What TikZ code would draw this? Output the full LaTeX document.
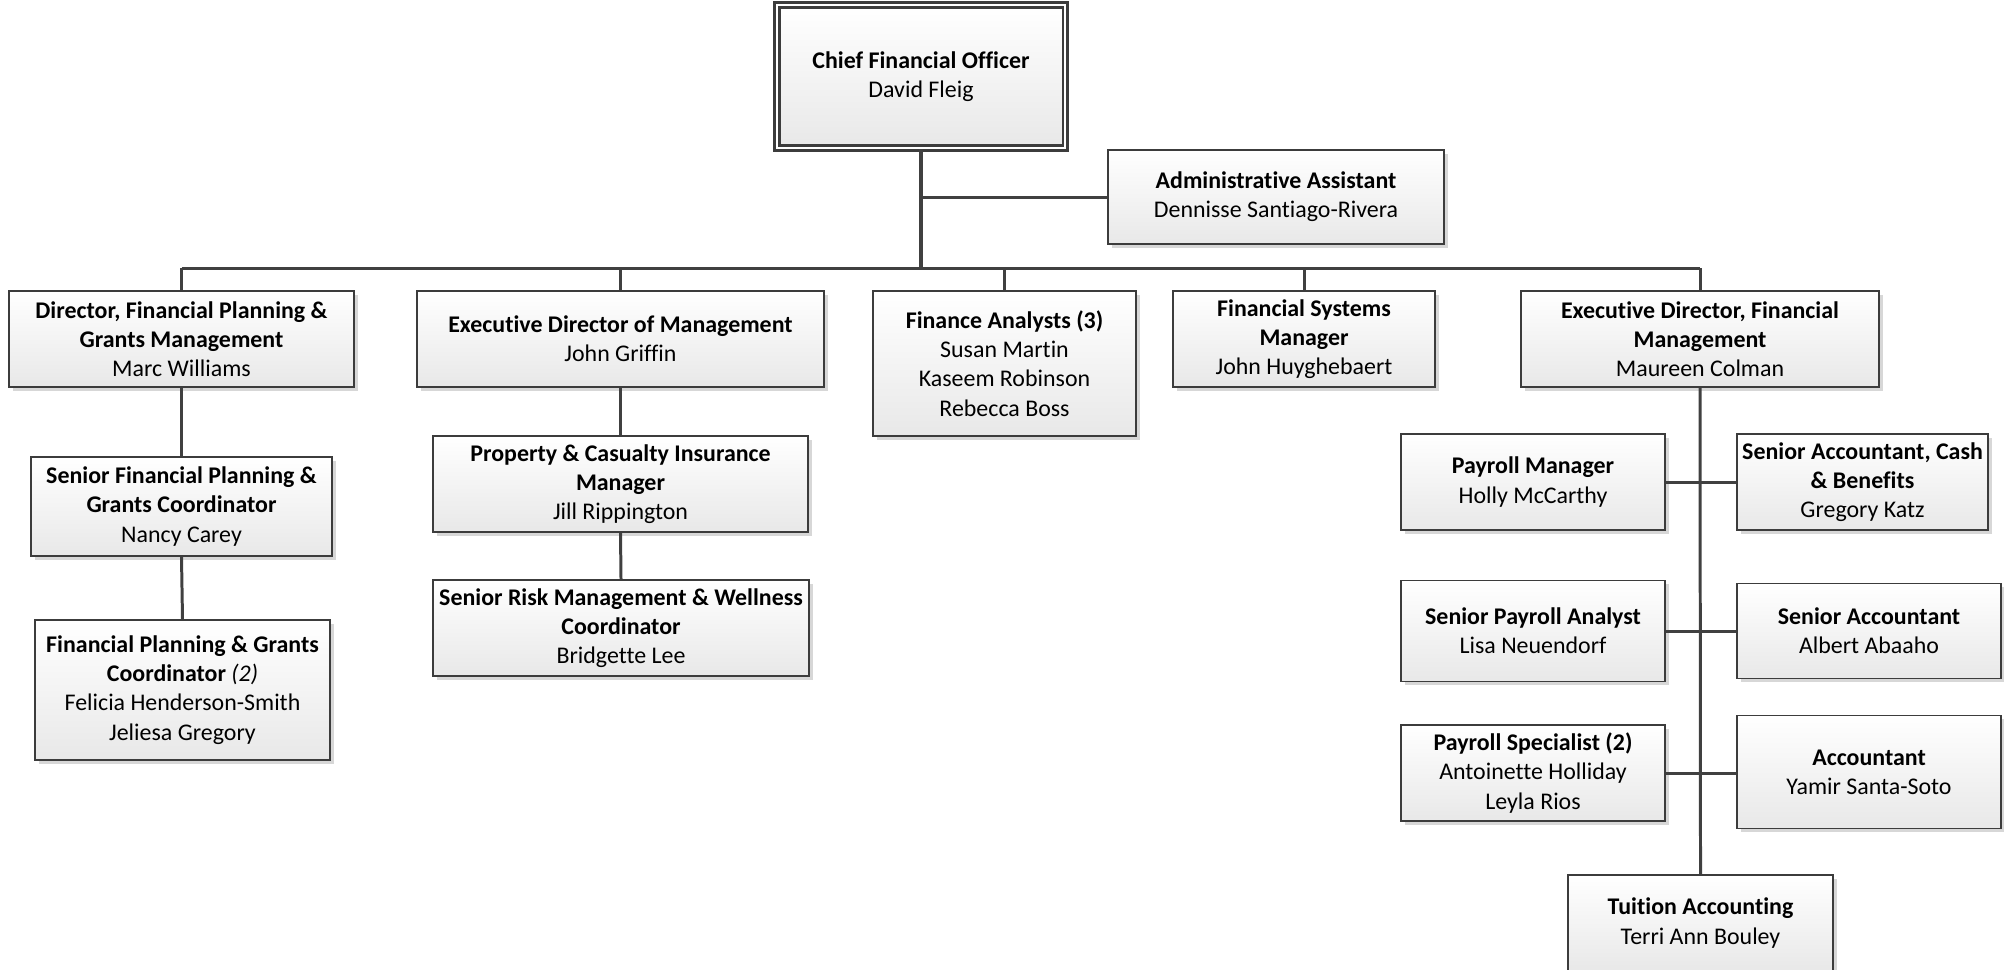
\documentclass[tikz,border=0pt]{standalone}
\usepackage{fontspec}
\setmainfont{Carlito}[Ligatures={NoCommon}]
\usetikzlibrary{shadows}

\definecolor{boxline}{HTML}{3C3C3C}
\definecolor{wireline}{HTML}{404040}

\tikzset{
  person/.style={draw=boxline, line width=0.55pt, top color=white, bottom color=black!9,
    align=center, inner sep=1pt, font=\fontsize{6.8}{8.3}\selectfont,
    drop shadow={shadow xshift=0.035cm, shadow yshift=-0.035cm, fill=black!35, opacity=0.45}},
  boxdim/.style 2 args={minimum width=#1*0.01cm, minimum height=#2*0.01cm},
  wire/.style={draw=wireline, line width=0.85pt}
}

\begin{document}
\begin{tikzpicture}[x=0.01cm, y=-0.01cm]

  \useasboundingbox (0,0) rectangle (2004,969);

  % top
  \node[person, boxdim={288}{143}, line width=0.7pt, double=white, double distance=0.6pt] (cfo) at (921,76.5)
    {\textbf{Chief Financial Officer}\\David Fleig};
  \node[person, boxdim={336}{94}] (admin) at (1276,197)
    {\textbf{Administrative Assistant}\\Dennisse Santiago-Rivera};

  % first row
  \node[person, boxdim={345}{96}] (dirfp) at (181.5,339)
    {\textbf{Director, Financial Planning \&}\\\textbf{Grants Management}\\Marc Williams};
  \node[person, boxdim={407}{96}] (execmgmt) at (620.5,339)
    {\textbf{Executive Director of Management}\\John Griffin};
  \node[person, boxdim={263}{145}] (analysts) at (1004.5,363.5)
    {\textbf{Finance Analysts (3)}\\Susan Martin\\Kaseem Robinson\\Rebecca Boss};
  \node[person, boxdim={262}{96}] (systems) at (1304,339)
    {\textbf{Financial Systems}\\\textbf{Manager}\\John Huyghebaert};
  \node[person, boxdim={358}{96}] (execfm) at (1700,339)
    {\textbf{Executive Director, Financial}\\\textbf{Management}\\Maureen Colman};

  % planning & grants
  \node[person, boxdim={301}{99}] (seniorfp) at (181.5,506.5)
    {\textbf{Senior Financial Planning \&}\\\textbf{Grants Coordinator}\\Nancy Carey};
  \node[person, boxdim={295}{140}] (fpcoord) at (182.5,690)
    {\textbf{Financial Planning \& Grants}\\\textbf{Coordinator} \textit{(2)}\\Felicia Henderson-Smith\\Jeliesa Gregory};

  % management
  \node[person, boxdim={375}{96}] (insurance) at (620.5,484)
    {\textbf{Property \& Casualty Insurance}\\\textbf{Manager}\\Jill Rippington};
  \node[person, boxdim={376}{96}] (risk) at (621,628)
    {\textbf{Senior Risk Management \& Wellness}\\\textbf{Coordinator}\\Bridgette Lee};

  % financial management
  \node[person, boxdim={264}{96}] (payrollmgr) at (1533,482)
    {\textbf{Payroll Manager}\\Holly McCarthy};
  \node[person, boxdim={251}{96}] (cashacct) at (1862.5,482)
    {\textbf{Senior Accountant, Cash}\\\textbf{\& Benefits}\\Gregory Katz};
  \node[person, boxdim={264}{101}] (payanalyst) at (1533,631)
    {\textbf{Senior Payroll Analyst}\\Lisa Neuendorf};
  \node[person, boxdim={264}{95}] (senacct) at (1869,631)
    {\textbf{Senior Accountant}\\Albert Abaaho};
  \node[person, boxdim={264}{96}] (payspec) at (1533,773)
    {\textbf{Payroll Specialist (2)}\\Antoinette Holliday\\Leyla Rios};
  \node[person, boxdim={264}{113}] (acct) at (1869,772)
    {\textbf{Accountant}\\Yamir Santa-Soto};
  \node[person, boxdim={265}{96}] (tuition) at (1700.5,923)
    {\textbf{Tuition Accounting}\\Terri Ann Bouley};

  \coordinate (bus) at (921,268);

  \draw[wire, line width=1.1pt] (cfo.south) -- (bus);
  \draw[wire] (admin.west) -- (admin.west -| cfo.south);
  \draw[wire] (dirfp.north |- bus) -- (execfm.north |- bus);
  \foreach \n in {dirfp,execmgmt,analysts,systems,execfm}{
    \draw[wire] (\n.north) -- (\n.north |- bus);
  }

  \draw[wire] (dirfp.south) -- (seniorfp.north);
  \draw[wire] (seniorfp.south) -- (fpcoord.north);
  \draw[wire] (execmgmt.south) -- (insurance.north);
  \draw[wire] (insurance.south) -- (risk.north);

  \draw[wire] (execfm.south) -- (tuition.north);
  \draw[wire] (payrollmgr.east) -- (cashacct.west);
  \draw[wire] (payanalyst.east) -- (senacct.west);
  \draw[wire] (payspec.east) -- (payspec.east -| acct.west);

\end{tikzpicture}
\end{document}
